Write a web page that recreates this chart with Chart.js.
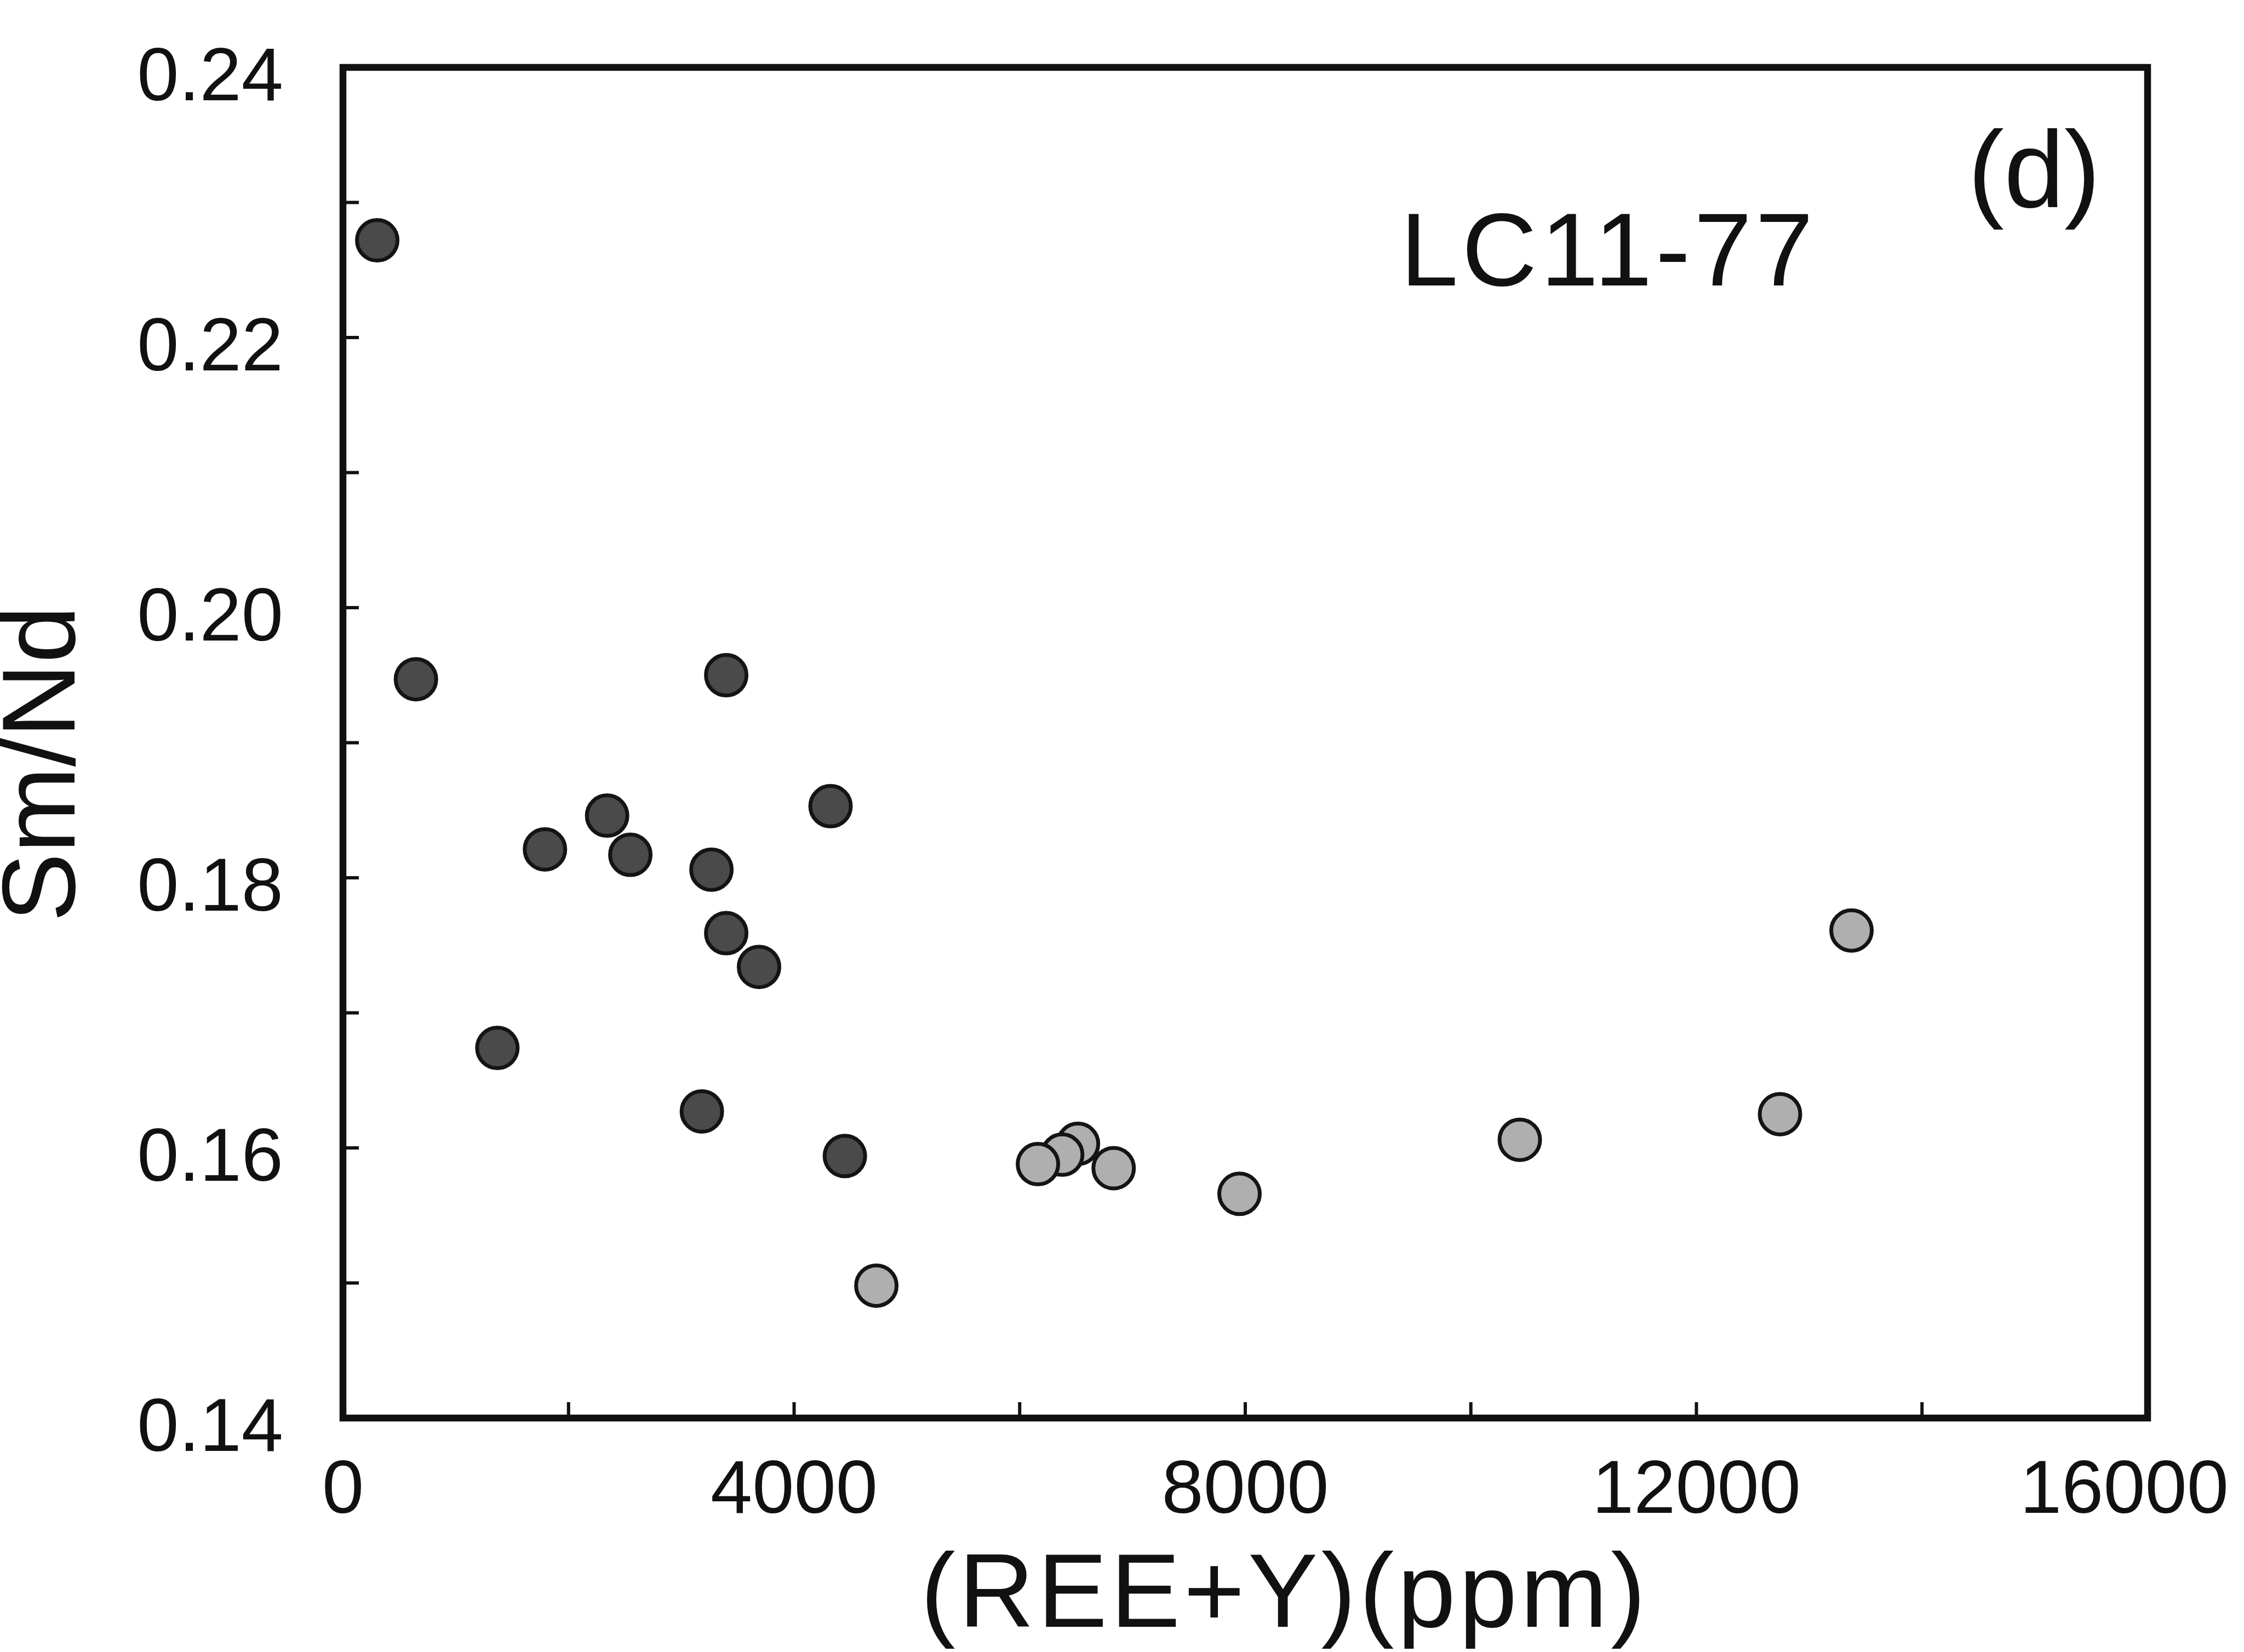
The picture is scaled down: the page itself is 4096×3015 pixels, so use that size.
<!DOCTYPE html>
<html>
<head>
<meta charset="utf-8">
<title>Sm/Nd vs (REE+Y) - LC11-77</title>
<script src="https://cdn.jsdelivr.net/npm/chart.js@4.4.1/dist/chart.umd.min.js"></script>
<style>
  html, body { margin: 0; padding: 0; background: #fff; }
  canvas { display: block; }
</style>
</head>
<body>
<canvas id="smNdChart" width="4096" height="3015"></canvas>
<script>
const sampleName = 'LC11-77';
const panelTag = '(d)';
const xTitle = '(REE+Y)(ppm)';
const yTitle = 'Sm/Nd';

// dark grey grains
const darkRee = [304, 647, 1369, 1791, 2342, 2548, 3182, 3267, 3398, 3398, 3689, 4323, 4450];
const darkSmNd = [0.2272, 0.1947, 0.1674, 0.1821, 0.1846, 0.1817, 0.1627, 0.1806, 0.1950, 0.1759, 0.1734, 0.1853, 0.1594];

// light grey grains (order kept so the overlapping ones stack like the original)
const lightRee = [4729, 6517, 6377, 6162, 6833, 7949, 10434, 12741, 13375];
const lightSmNd = [0.1498, 0.1603, 0.1595, 0.1588, 0.1585, 0.1566, 0.1606, 0.1625, 0.1761];

// axis ticks
const xTickLabels = [0, 4000, 8000, 12000, 16000];
const yTickLabels = [0.14, 0.16, 0.18, 0.20, 0.22, 0.24];
const xTickMarks = [2000, 4000, 6000, 8000, 10000, 12000, 14000];
const yTickMarks = [0.15, 0.16, 0.17, 0.18, 0.19, 0.20, 0.21, 0.22, 0.23];

const FONT = '"Liberation Sans", Arial, sans-serif';

function toPoints(xs, ys) {
  return xs.map((v, i) => ({ x: v, y: ys[i] }));
}

function setText(ctx, size, spacing) {
  ctx.font = size + 'px ' + FONT;
  if ('letterSpacing' in ctx) ctx.letterSpacing = (spacing || 0) + 'px';
}

const boxAxes = {
  id: 'boxAxes',
  beforeDraw(chart) {
    const { ctx, width, height } = chart;
    ctx.save();
    ctx.fillStyle = '#fff';
    ctx.fillRect(0, 0, width, height);
    ctx.restore();
  },
  beforeDatasetsDraw(chart) {
    const { ctx, chartArea: a, scales: { x, y } } = chart;
    ctx.save();
    ctx.strokeStyle = '#111';
    ctx.lineCap = 'butt';
    ctx.lineWidth = 6;
    ctx.beginPath();
    xTickMarks.forEach(v => {
      const px = x.getPixelForValue(v);
      ctx.moveTo(px, a.bottom);
      ctx.lineTo(px, a.bottom - 29);
    });
    yTickMarks.forEach(v => {
      const py = y.getPixelForValue(v);
      ctx.moveTo(a.left, py);
      ctx.lineTo(a.left + 29, py);
    });
    ctx.stroke();
    ctx.lineJoin = 'miter';
    ctx.lineWidth = 12.5;
    ctx.strokeRect(a.left, a.top, a.right - a.left, a.bottom - a.top);
    ctx.restore();
  },
  afterDraw(chart) {
    const { ctx, chartArea: a, scales: { x, y }, width } = chart;
    ctx.save();
    ctx.fillStyle = '#111';
    ctx.textBaseline = 'alphabetic';

    // y tick labels
    setText(ctx, 137, 0);
    ctx.textAlign = 'right';
    yTickLabels.forEach(v => {
      ctx.fillText(v.toFixed(2), a.left - 109, y.getPixelForValue(v) + 60);
    });

    // x tick labels, last one kept inside the page
    ctx.textAlign = 'left';
    xTickLabels.forEach(v => {
      const txt = String(v);
      const w = ctx.measureText(txt).width;
      let left = x.getPixelForValue(v) - w / 2;
      if (left + w > width - 28) left = width - 28 - w;
      ctx.fillText(txt, left, 2761);
    });

    // sample name and panel tag
    setText(ctx, 190, 6.5);
    ctx.textAlign = 'left';
    ctx.fillText(sampleName, 2556, 521);
    setText(ctx, 198, 0);
    ctx.fillText(panelTag, 3592, 378);

    // axis titles
    setText(ctx, 191, 6);
    ctx.textAlign = 'center';
    ctx.fillText(xTitle, 2345, 2969);

    setText(ctx, 189, 0);
    ctx.translate(136, 1394);
    ctx.rotate(-Math.PI / 2);
    ctx.fillText(yTitle, 0, 0);
    ctx.restore();
  }
};

const pointStyle = {
  borderColor: '#141414',
  borderWidth: 7,
  pointRadius: 37,
  pointHoverRadius: 37,
  clip: false
};

new Chart(document.getElementById('smNdChart'), {
  type: 'scatter',
  data: {
    datasets: [
      Object.assign({ label: 'dark', data: toPoints(darkRee, darkSmNd), backgroundColor: '#4a4a4a' }, pointStyle),
      Object.assign({ label: 'light', data: toPoints(lightRee, lightSmNd), backgroundColor: '#afafaf' }, pointStyle)
    ]
  },
  options: {
    responsive: false,
    devicePixelRatio: 1,
    animation: false,
    events: [],
    layout: { padding: { left: 626, right: 176, top: 123, bottom: 427 } },
    plugins: { legend: { display: false }, tooltip: { enabled: false } },
    scales: {
      x: { type: 'linear', min: 0, max: 16000, display: false },
      y: { type: 'linear', min: 0.14, max: 0.24, display: false }
    }
  },
  plugins: [boxAxes]
});
</script>
</body>
</html>
